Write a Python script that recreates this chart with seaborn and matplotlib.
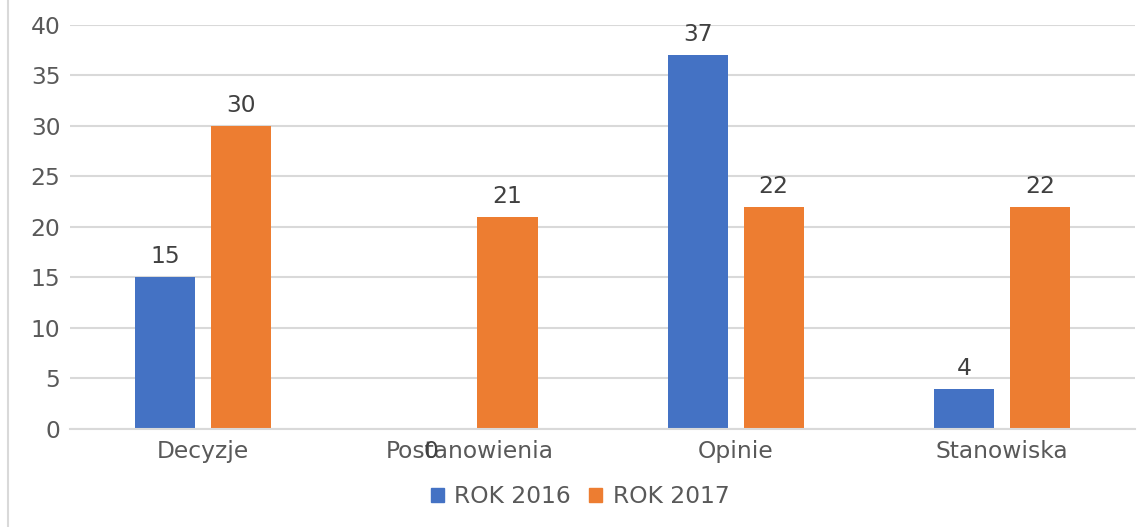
import matplotlib
matplotlib.use("Agg")
from matplotlib import pyplot as plt
from matplotlib.lines import Line2D
from matplotlib.patches import Patch
import pandas as pd
import seaborn as sns

categories = ["Decyzje", "Postanowienia", "Opinie", "Stanowiska"]
rok_2016 = [15, 0, 37, 4]
rok_2017 = [30, 21, 22, 22]
series = ["ROK 2016", "ROK 2017"]
colors = ["#4472C4", "#ED7D31"]

df = pd.DataFrame({
    "kategoria": categories * 2,
    "rok": [series[0]] * 4 + [series[1]] * 4,
    "wartosc": rok_2016 + rok_2017,
})

sns.set_style("white")
plt.rcParams["font.family"] = ["DejaVu Sans"]
FS = 16.8

fig = plt.figure(figsize=(11.42, 5.27), dpi=100)
ax = fig.add_axes([0.0613, 0.186, 0.9326, 0.7666])

sns.barplot(data=df, x="kategoria", y="wartosc", hue="rok", palette=colors,
            width=0.572, gap=0.211, legend=False, ax=ax, saturation=1,
            linewidth=0)

ax.set_ylim(0, 40)
ax.set_xlim(-0.5, 3.5)
ax.set_yticks(range(0, 41, 5))
ax.yaxis.grid(True, color="#d9d9d9", linewidth=1.5)
ax.set_axisbelow(True)
for s in ["top", "right", "left"]:
    ax.spines[s].set_visible(False)
ax.spines["bottom"].set_color("#d9d9d9")
ax.spines["bottom"].set_linewidth(1.5)
ax.tick_params(axis="both", length=0, labelsize=FS, colors="#595959", pad=8)
ax.tick_params(axis="y", pad=7)
ax.set_xlabel("")
ax.set_ylabel("")

# etykiety wartosci; zero laduje pod osia jak w oryginale
for p in ax.patches:
    h = p.get_height()
    xc = p.get_x() + p.get_width() / 2
    if h == 0:
        ax.annotate("0", (xc, 0), xytext=(0, -16.5), textcoords="offset points",
                    ha="center", va="center", fontsize=FS, color="#404040")
    else:
        ax.annotate(f"{h:g}", (xc, h), xytext=(0, 6.5), textcoords="offset points",
                    ha="center", va="bottom", fontsize=FS, color="#404040")

handles = [Patch(color=c, label=s) for c, s in zip(colors, series)]
fig.legend(handles=handles, loc="center", bbox_to_anchor=(0.508, 0.057), ncol=2,
           frameon=False, fontsize=FS, handlelength=0.55, handleheight=0.55,
           handletextpad=0.45, columnspacing=0.8, labelcolor="#595959")

fig.add_artist(Line2D([0.0066, 0.0066], [0, 1], color="#d9d9d9", linewidth=1.5,
                      transform=fig.transFigure))

fig.savefig("out.png", dpi=100, facecolor="white")
